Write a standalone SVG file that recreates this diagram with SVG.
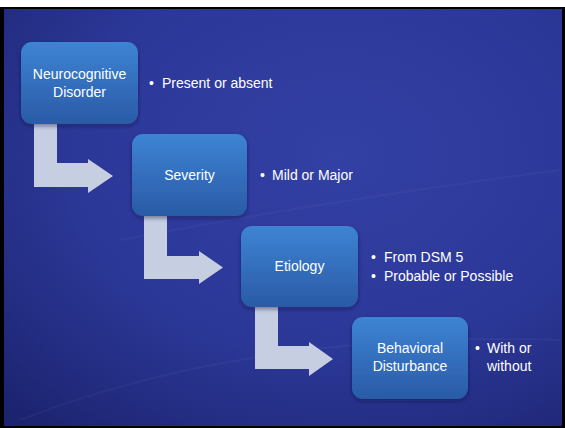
<svg xmlns="http://www.w3.org/2000/svg" width="565" height="428" viewBox="0 0 565 428">
<defs>
<radialGradient id="bg" cx="0.6" cy="0.35" r="0.85">
<stop offset="0" stop-color="#3340a4"/>
<stop offset="0.55" stop-color="#2c3898"/>
<stop offset="1" stop-color="#1c2470"/>
</radialGradient>
<linearGradient id="box" x1="0" y1="0" x2="0" y2="1">
<stop offset="0" stop-color="#3d84d4"/>
<stop offset="1" stop-color="#2a5aa6"/>
</linearGradient>
<filter id="sh" x="-20%" y="-20%" width="140%" height="140%">
<feDropShadow dx="0" dy="2" stdDeviation="2" flood-color="#0a0f40" flood-opacity="0.5"/>
</filter>
</defs>
<style>
.bx{fill:url(#box);filter:url(#sh)}
.ar{fill:#c6cfe2}
text{font-family:"Liberation Sans",Arial,sans-serif;font-size:14px;fill:#ffffff}
.c{text-anchor:middle}
</style>
<rect x="0" y="0" width="565" height="428" fill="#ffffff"/>
<rect x="0" y="7" width="565" height="421" fill="#000000"/>
<rect x="4" y="9" width="558" height="417" fill="url(#bg)"/>
<path d="M20,420 Q250,330 560,340" fill="none" stroke="#ffffff" stroke-opacity="0.035" stroke-width="2"/>
<path d="M120,240 Q330,200 560,170" fill="none" stroke="#ffffff" stroke-opacity="0.03" stroke-width="2"/>
<g id="connectors">
<path class="ar" d="M34,124 H57 V163 H88 V159 L113,176 L88,193 V187 H34 Z"/>
<path class="ar" d="M144,216 H167 V256 H199 V251 L223,267.5 L199,284 V279 H144 Z"/>
<path class="ar" d="M255,307 H278 V346 H309 V342 L333,359 L309,376 V369 H255 Z"/>
</g>
<g id="node-neurocognitive">
<rect class="bx" x="21" y="42" width="117" height="82" rx="11"/>
<text class="c" x="79.5" y="79">Neurocognitive</text>
<text class="c" x="79.5" y="97">Disorder</text>
</g>
<g id="node-severity">
<rect class="bx" x="132" y="134" width="115" height="82" rx="11"/>
<text class="c" x="189.5" y="180">Severity</text>
</g>
<g id="node-etiology">
<rect class="bx" x="241" y="226" width="117" height="81" rx="11"/>
<text class="c" x="299.5" y="271">Etiology</text>
</g>
<g id="node-behavioral">
<rect class="bx" x="352" y="317" width="116" height="82" rx="11"/>
<text class="c" x="410" y="353">Behavioral</text>
<text class="c" x="410" y="371">Disturbance</text>
</g>
<g id="notes">
<text x="149" y="88">•</text><text x="162" y="88">Present or absent</text>
<text x="260" y="180">•</text><text x="272" y="180">Mild or Major</text>
<text x="371" y="262">•</text><text x="384" y="262">From DSM 5</text>
<text x="371" y="281">•</text><text x="384" y="281">Probable or Possible</text>
<text x="475" y="353">•</text><text x="487" y="353">With or</text>
<text x="487" y="371">without</text>
</g>
</svg>
